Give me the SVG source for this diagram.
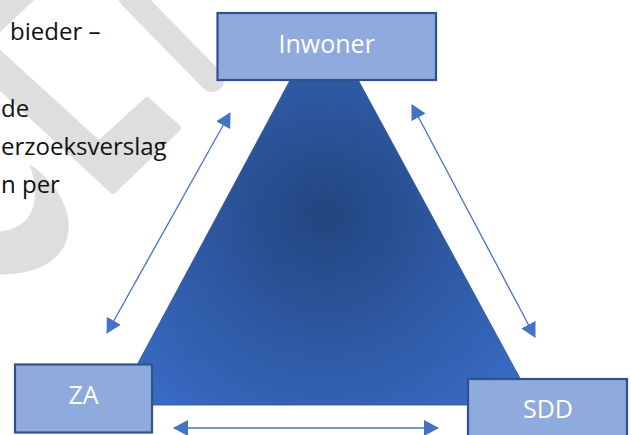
<svg xmlns="http://www.w3.org/2000/svg" width="631" height="435" viewBox="0 0 631 435">
  <defs>
    <style>
      .wm { fill:#dedede; stroke:#dedede; stroke-linejoin:round; }
      .side { font-family:"Open Sans","Liberation Sans",sans-serif; font-size:24px; fill:#111; }
      .box { fill:#8faadc; stroke:#2f528f; stroke-width:2.2; }
      .lbl { font-family:"Open Sans","Liberation Sans",sans-serif; font-size:25px; fill:#ffffff; text-anchor:middle; }
      .conn { stroke:#4472c4; stroke-width:1.3; fill:none; marker-start:url(#ah); marker-end:url(#ah); }
    </style>
    <radialGradient id="triGrad" gradientUnits="userSpaceOnUse" cx="325" cy="215" r="250">
      <stop offset="0" stop-color="#23457f"/>
      <stop offset="1" stop-color="#386bc4"/>
    </radialGradient>
    <marker id="ah" viewBox="0 0 15 16" markerWidth="15" markerHeight="16" refX="14" refY="8" orient="auto-start-reverse" markerUnits="userSpaceOnUse">
      <path d="M0,0 L15,8 L0,16 Z" fill="#4472c4"/>
    </marker>
  </defs>

  <rect width="631" height="435" fill="#ffffff"/>

  <g id="watermark">
    <path class="wm" stroke-width="6" d="M-3,-3 L33,-3 L-3,31 Z"/>
    <path d="M130,-4 L212,80" stroke="#dedede" stroke-width="24" stroke-linecap="round" fill="none"/>
    <path class="wm" stroke-width="6" d="M-3,51 L99,144 L147,100 L178,128 L113,191 L-3,84 Z"/>
    <path class="wm" stroke-width="1" d="M30,165 C52,180 70,205 68,230 C66,258 40,274 0,274 L0,232 C20,230 33,218 35,200 C36,185 34,175 30,165 Z"/>
  </g>

  <g id="side-text">
    <text class="side" x="10" y="39.5">bieder –</text>
    <text class="side" x="1" y="116.5">de</text>
    <text class="side" x="1" y="155">erzoeksverslag</text>
    <text class="side" x="1" y="193">n per</text>
  </g>

  <g id="triangle">
    <polygon points="324,17 115.5,405 534.5,405" fill="url(#triGrad)" stroke="#2c4f8f" stroke-width="0.8"/>
  </g>

  <g id="node-inwoner">
    <rect class="box" x="217.5" y="13" width="218.5" height="67"/>
    <text class="lbl" x="326.7" y="53">Inwoner</text>
  </g>

  <g id="node-za">
    <rect class="box" x="15" y="364.5" width="137" height="68"/>
    <text class="lbl" x="83.5" y="404">ZA</text>
  </g>

  <g id="node-sdd">
    <rect class="box" x="468" y="379" width="159" height="70"/>
    <text class="lbl" x="548" y="418">SDD</text>
  </g>

  <g id="connectors">
    <line class="conn" x1="230" y1="113" x2="107" y2="333"/>
    <line class="conn" x1="412" y1="105" x2="535" y2="337"/>
    <line class="conn" x1="174" y1="428" x2="438" y2="428"/>
  </g>
</svg>
